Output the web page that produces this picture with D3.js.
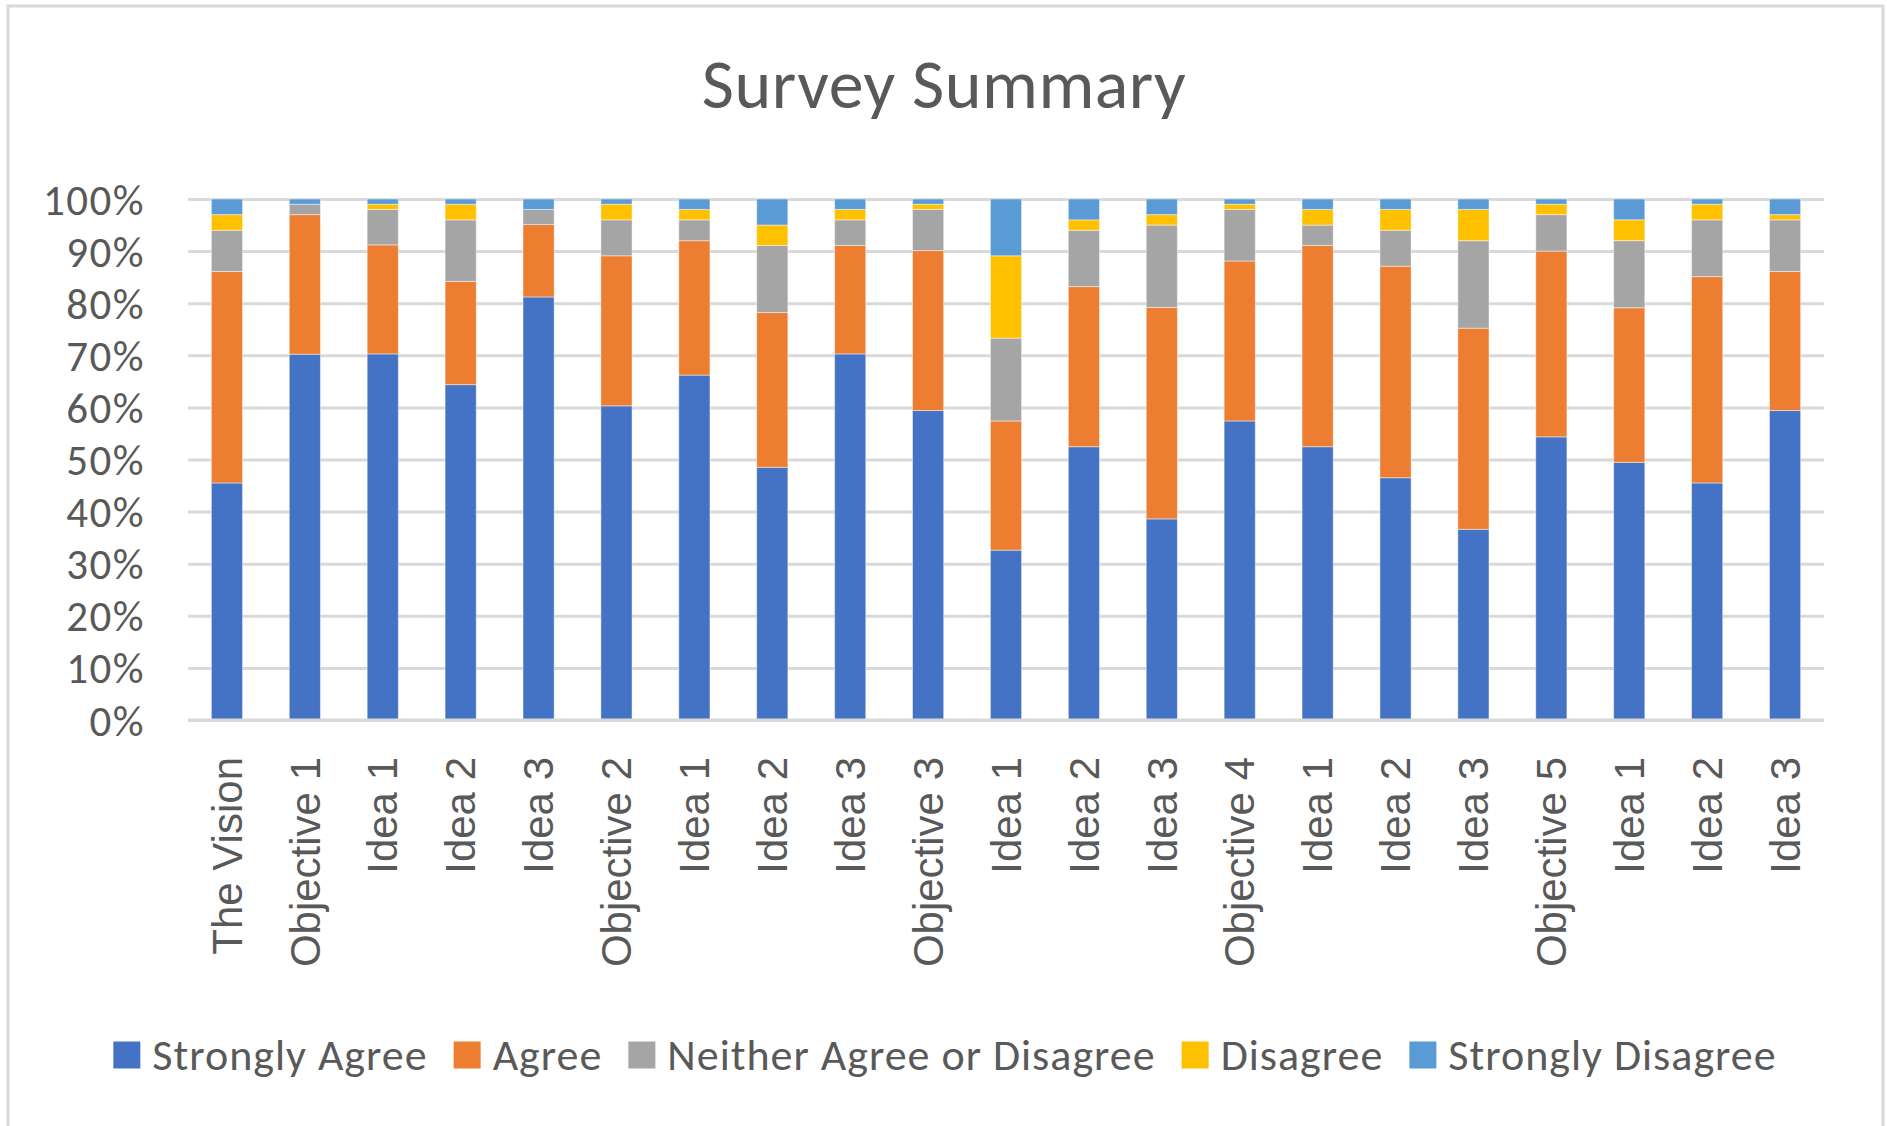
<!DOCTYPE html>
<html>
<head>
<meta charset="utf-8">
<script src="https://cdn.jsdelivr.net/npm/d3@7"></script>
<style>
  html, body { margin: 0; padding: 0; background: #fff; }
  svg { display: block; }
</style>
</head>
<body>
<svg id="chart" width="1887" height="1126"></svg>
<script>
// ---- data ----
const categories = ["The Vision","Objective 1","Idea 1","Idea 2","Idea 3","Objective 2","Idea 1","Idea 2","Idea 3","Objective 3","Idea 1","Idea 2","Idea 3","Objective 4","Idea 1","Idea 2","Idea 3","Objective 5","Idea 1","Idea 2","Idea 3"];
const seriesNames = ["Strongly Agree","Agree","Neither Agree or Disagree","Disagree","Strongly Disagree"];
const stronglyAgree    = [45.5,70.2,70.2,64.3,81.2,60.3,66.2,48.5,70.2,59.4,32.6,52.4,38.6,57.4,52.4,46.5,36.6,54.4,49.5,45.5,59.4];
const agree            = [40.6,26.8,20.9,19.8,13.9,28.8,25.8,29.7,20.8,30.7,24.8,30.7,40.6,30.7,38.6,40.6,38.6,35.7,29.7,39.6,26.7];
const neither          = [ 7.9, 2.0, 6.8,11.8, 2.9, 6.9, 4.0,12.9, 4.9, 7.9,15.9,10.8,15.8, 9.9, 3.9, 6.9,16.8, 7.0,12.9,10.9, 9.9];
const disagree         = [ 3.0, 0.0, 1.0, 3.0, 0.0, 3.0, 2.0, 3.9, 2.0, 1.0,15.8, 2.0, 2.0, 1.0, 3.0, 4.0, 6.0, 2.0, 4.0, 3.0, 1.0];
const stronglyDisagree = [ 3.0, 1.0, 1.0, 1.0, 2.0, 1.0, 2.0, 5.0, 2.0, 1.0,10.9, 4.0, 3.0, 1.0, 2.0, 2.0, 2.0, 1.0, 4.0, 1.0, 3.0];
const yTicks = [0,0.1,0.2,0.3,0.4,0.5,0.6,0.7,0.8,0.9,1.0];
const titleText = "Survey Summary";

const colors = ["#4472C4","#ED7D31","#A5A5A5","#FFC000","#5B9BD5"];
const CAL = "Carlito, Lato, 'Open Sans', sans-serif";
const ARIAL = "'Liberation Sans', Arial, sans-serif";
const TXT = "#595959";

// ---- build table ----
const seriesArrays = [stronglyAgree, agree, neither, disagree, stronglyDisagree];
const table = categories.map((c, i) => {
  const row = { idx: i, name: c };
  seriesNames.forEach((s, k) => row[s] = seriesArrays[k][i]);
  return row;
});
const stack = d3.stack().keys(seriesNames).offset(d3.stackOffsetExpand);
const stacked = stack(table);

const svg = d3.select("#chart");
svg.append("rect").attr("x",0).attr("y",0).attr("width",1887).attr("height",1126).attr("fill","#fff");
svg.append("rect").attr("x",8).attr("y",6).attr("width",1875).attr("height",1140)
  .attr("fill","none").attr("stroke","#d9d9d9").attr("stroke-width",3);

const plot = { left: 188, right: 1824, top: 199, bottom: 720 };

const x = d3.scaleBand().domain(d3.range(categories.length))
  .range([plot.left, plot.right]).paddingInner(0.6).paddingOuter(0.3);
const y = d3.scaleLinear().domain([0,1]).range([plot.bottom, plot.top]);

// title
svg.append("text").attr("x", 944).attr("y", 108)
  .attr("text-anchor","middle").attr("fill",TXT)
  .style("font-family",CAL).style("font-size","70px").style("letter-spacing","0.5px").text(titleText);

// gridlines
const grid = svg.append("g").attr("transform",`translate(${plot.left},0)`)
  .call(d3.axisLeft(y).tickValues(yTicks).tickSize(-(plot.right-plot.left)).tickFormat(""));
grid.select(".domain").remove();
grid.selectAll(".tick line").attr("stroke","#d9d9d9").attr("stroke-width",3);

// y axis labels
const yAxis = svg.append("g").attr("transform",`translate(145,0)`)
  .call(d3.axisLeft(y).tickValues(yTicks).tickSize(0).tickPadding(0).tickFormat(d3.format(".0%")));
yAxis.select(".domain").remove();
yAxis.selectAll("text").attr("fill",TXT).attr("dy","0.35em")
  .style("font-family",CAL).style("font-size","43px").style("letter-spacing","1.5px");

// bars
svg.append("g").selectAll("g").data(stacked).join("g")
  .attr("fill", (d,i) => colors[i])
  .selectAll("rect").data(d => d).join("rect")
  .attr("x", d => x(d.data.idx))
  .attr("width", x.bandwidth())
  .attr("y", d => y(d[1]))
  .attr("height", d => Math.max(0, y(d[0]) - y(d[1])))
  .attr("stroke","#ffffff").attr("stroke-opacity",0.45).attr("stroke-width",1);

// baseline over bars
svg.append("line").attr("x1",plot.left).attr("x2",plot.right)
  .attr("y1",y(0)).attr("y2",y(0)).attr("stroke","#d9d9d9").attr("stroke-width",3);

// x axis labels
const xAxis = svg.append("g").attr("transform",`translate(0,757)`)
  .call(d3.axisBottom(x).tickSize(0).tickPadding(0).tickFormat(i => categories[i]));
xAxis.select(".domain").remove();
xAxis.selectAll("text")
  .attr("fill",TXT)
  .style("font-family",ARIAL).style("font-size","42px")
  .attr("text-anchor","end")
  .attr("transform","rotate(-90)")
  .attr("x",0).attr("y",0).attr("dy","0.35em").attr("dx",0);

// legend
const legend = svg.append("g");
const items = legend.selectAll("g").data(seriesNames).join("g");
items.append("rect").attr("width",27).attr("height",27).attr("y",-27/2)
  .attr("fill",(d,i)=>colors[i]);
items.append("text").attr("x",39).attr("dy","0.35em")
  .attr("fill",TXT).style("font-family",CAL).style("font-size","44px")
  .style("letter-spacing","1px").text(d=>d);
let cx = 0;
const gap = 26;
items.each(function() {
  const g = d3.select(this);
  const w = 39 + g.select("text").node().getComputedTextLength();
  g.attr("transform", `translate(${cx},0)`);
  cx += w + gap;
});
const totalW = cx - gap;
legend.attr("transform", `translate(${945 - totalW/2},1055)`);
</script>
</body>
</html>
